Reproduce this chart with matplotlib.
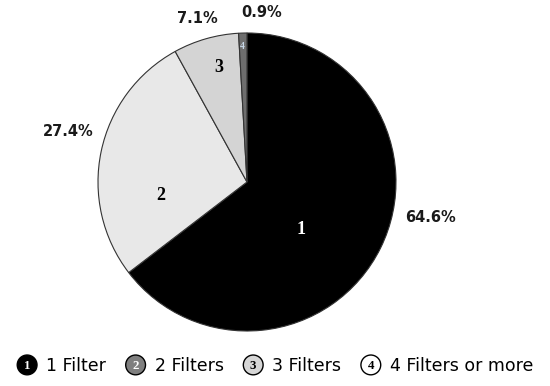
import matplotlib
matplotlib.use("Agg")
import matplotlib.pyplot as plt
from matplotlib.legend_handler import HandlerBase
from matplotlib.patches import Circle
from matplotlib.text import Text

# data
categories = ["1 Filter", "2 Filters", "3 Filters", "4 Filters or more"]
slice_ids = ["1", "2", "3", "4"]
shares = [64.6, 27.4, 7.1, 0.9]
pct_labels = ["64.6%", "27.4%", "7.1%", "0.9%"]

# styling
colors = ["#000000", "#e8e8e8", "#d4d4d4", "#6e6e6e"]
legend_faces = ["#000000", "#7f7f7f", "#d6d6d6", "#ffffff"]
legend_nums = ["#ffffff", "#ffffff", "#000000", "#000000"]
id_colors = ["#ffffff", "#000000", "#000000", "#c8d8e8"]
id_sizes = [13, 13, 13, 7]
# label positions in pie-radius units
id_pos = [(0.36, -0.32), (-0.58, -0.09), (-0.19, 0.77), (-0.03, 0.91)]
pct_pos = [(1.23, -0.24), (-1.20, 0.34), (-0.33, 1.10), (0.10, 1.14)]


class CircledNumber:
    def __init__(self, num, face, color):
        self.num = num
        self.face = face
        self.color = color


class CircledNumberHandler(HandlerBase):
    def create_artists(self, legend, orig_handle, xdescent, ydescent,
                       width, height, fontsize, trans):
        cx = width / 2 - xdescent
        cy = height / 2 - ydescent
        r = fontsize * 0.57
        circ = Circle((cx, cy), r, facecolor=orig_handle.face,
                      edgecolor="black", linewidth=1.0, transform=trans)
        txt = Text(cx, cy - 0.5, orig_handle.num, ha="center", va="center",
                   color=orig_handle.color, fontsize=fontsize * 0.75,
                   fontweight="bold", family="Liberation Serif")
        txt.set_transform(trans)
        return [circ, txt]


fig = plt.figure(figsize=(5.5, 3.86), dpi=100)
ax = fig.add_axes([98 / 550, 55 / 386, 298 / 550, 298 / 386])

ax.pie(shares, colors=colors, startangle=90, counterclock=False, radius=1,
       wedgeprops=dict(edgecolor="#333333", linewidth=0.8))
ax.set_xlim(-1, 1)
ax.set_ylim(-1, 1)

for sid, (x, y), c, s in zip(slice_ids, id_pos, id_colors, id_sizes):
    ax.text(x, y, sid, ha="center", va="center", color=c, fontsize=s,
            fontweight="bold", family="Liberation Serif")

for lab, (x, y) in zip(pct_labels, pct_pos):
    ax.text(x, y, lab, ha="center", va="center", fontsize=10.5,
            fontweight="bold", color="#1a1a1a", family="DejaVu Sans")

handles = [CircledNumber(n, f, c) for n, f, c in zip(slice_ids, legend_faces, legend_nums)]
fig.legend(handles, categories, handler_map={CircledNumber: CircledNumberHandler()},
           loc="center", bbox_to_anchor=(0.5, 20 / 386), ncol=4, frameon=False,
           handlelength=1.2, handletextpad=0.5, columnspacing=1.1,
           prop={"family": "DejaVu Sans", "size": 12.5})

fig.savefig("out.png", dpi=100)
